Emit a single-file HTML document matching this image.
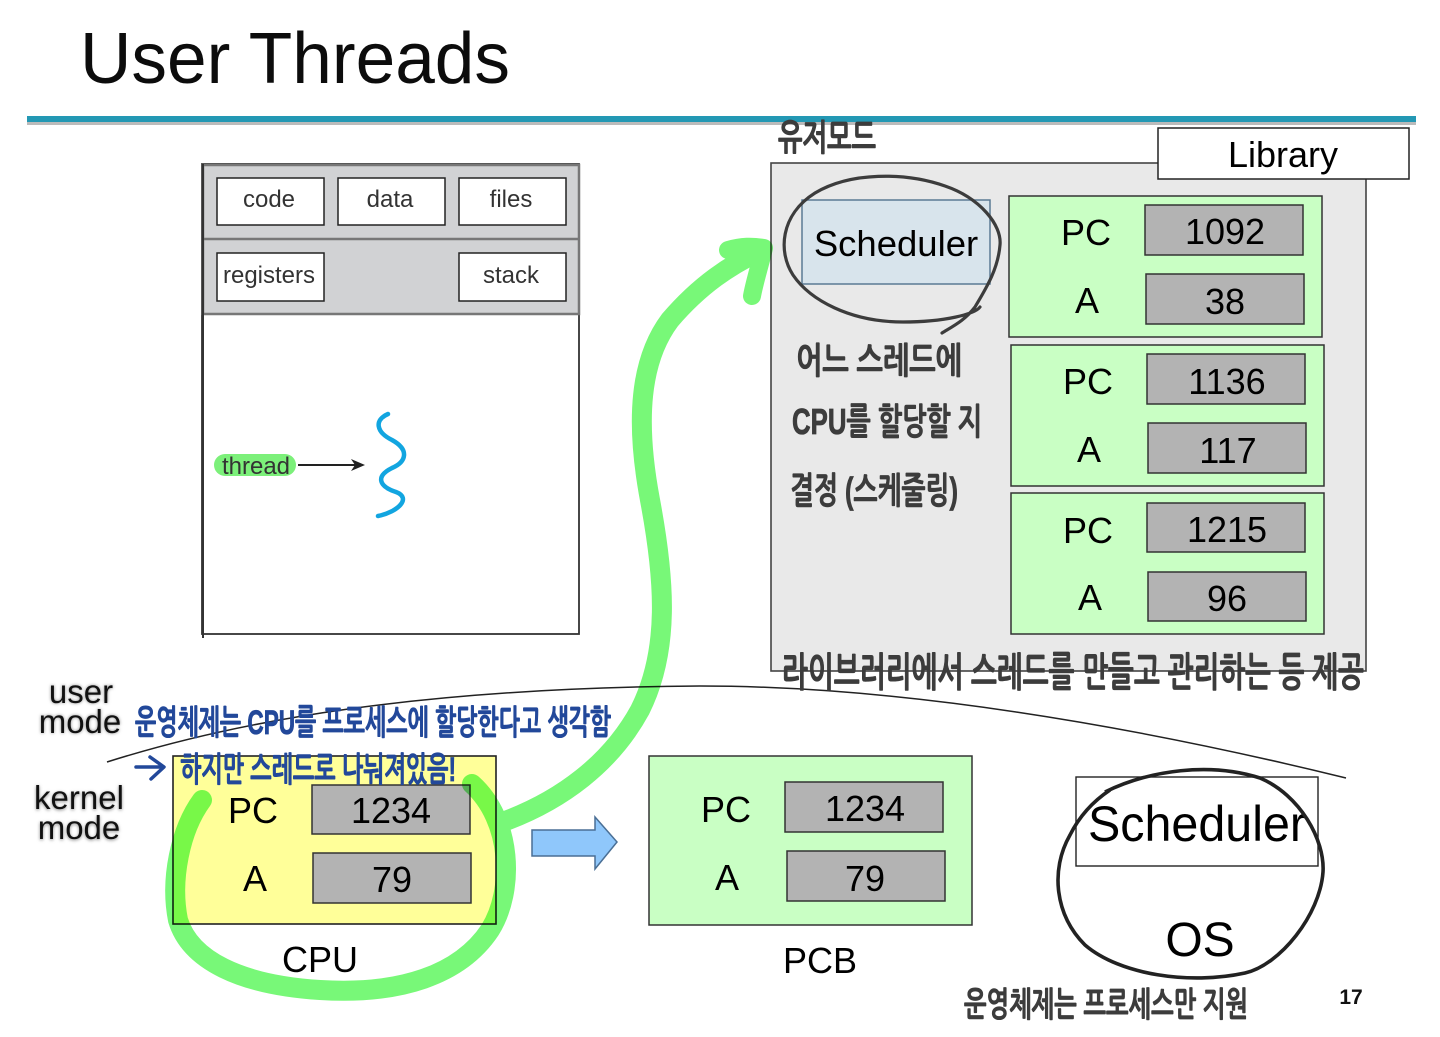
<!DOCTYPE html>
<html><head><meta charset="utf-8"><style>
html,body{margin:0;padding:0;background:#fff}
svg{display:block}
text{font-family:"Liberation Sans","Noto Sans CJK KR",sans-serif}
.h{font-family:"Liberation Sans","NanumGothic","Noto Sans CJK KR",sans-serif;font-weight:700;fill:#3c3c3c;stroke:#3c3c3c;stroke-width:.8}
.b{fill:#22489a;stroke:#22489a}
.k{fill:#000}
.box{fill:#fff;stroke:#222;stroke-width:1.5}
.g{fill:#b3b3b3;stroke:#333;stroke-width:1.5}
.pg{fill:#c9ffc4;stroke:#333;stroke-width:1.5}
</style></head><body>
<svg width="1440" height="1037" viewBox="0 0 1440 1037" xmlns="http://www.w3.org/2000/svg">
<defs><filter id="s" x="-20%" y="-20%" width="140%" height="140%"><feGaussianBlur stdDeviation="1.5"/></filter></defs>
<rect width="1440" height="1037" fill="#fff"/>
<text x="80" y="83" font-size="72" textLength="430" lengthAdjust="spacingAndGlyphs" fill="#0c0c0c">User Threads</text>
<rect x="27" y="121" width="1389" height="4" fill="#bbb"/>
<rect x="27" y="116" width="1389" height="6" fill="#2398b4"/>

<!-- process box -->
<rect x="202" y="164" width="377" height="470" fill="#fff" stroke="#333" stroke-width="1.8"/>
<rect x="203" y="165" width="376" height="149" fill="#d1d2d4" stroke="#777" stroke-width="2.5"/>
<line x1="203" y1="239" x2="579" y2="239" stroke="#777" stroke-width="2.5"/>
<line x1="203" y1="164" x2="203" y2="638" stroke="#333" stroke-width="2"/>
<rect class="box" x="217" y="178" width="107" height="47"/>
<rect class="box" x="338" y="178" width="107" height="47"/>
<rect class="box" x="459" y="178" width="107" height="47"/>
<rect class="box" x="217" y="253" width="107" height="48"/>
<rect class="box" x="459" y="253" width="107" height="48"/>
<g font-size="24" fill="#333" text-anchor="middle">
<text x="269" y="207">code</text><text x="390" y="207">data</text><text x="511" y="207">files</text>
<text x="269" y="283">registers</text><text x="511" y="283">stack</text>
</g>
<rect x="214" y="454" width="82" height="22" rx="11" fill="#7cf07a"/>
<text x="256" y="474" font-size="24" fill="#333" text-anchor="middle">thread</text>
<line x1="298" y1="465" x2="356" y2="465" stroke="#222" stroke-width="2"/>
<path d="M351 459L365 465L351 471L355 465Z" fill="#222"/>
<path d="M388 414C374 420 376 432 392 440C410 450 406 462 392 468C376 476 378 486 396 492C412 498 398 512 378 516" fill="none" stroke="#12a5e0" stroke-width="4.5" stroke-linecap="round"/>

<!-- Library panel -->
<rect x="771" y="163" width="595" height="508" fill="#e9e9e9" stroke="#444" stroke-width="1.6"/>
<rect x="1158" y="128" width="251" height="51" fill="#fff" stroke="#222" stroke-width="1.5"/>
<text x="1283" y="167" font-size="36" text-anchor="middle" class="k">Library</text>
<rect x="802" y="200" width="188" height="84" fill="#d8e4ec" stroke="#5b7a94" stroke-width="1.5"/>
<text x="896" y="256" font-size="36.5" text-anchor="middle" class="k">Scheduler</text>
<path d="M980 307C975 314 945 322 903 322C850 322 810 300 793 275C778 252 780 215 815 193C850 172 905 172 945 186C980 198 1002 225 1000 245C998 270 985 290 975 307C965 320 955 325 942 333" fill="none" stroke="#3c3c3c" stroke-width="3.2" stroke-linecap="round"/>

<g>
<rect class="pg" x="1009" y="196" width="313" height="141"/>
<rect class="pg" x="1011" y="345" width="313" height="141"/>
<rect class="pg" x="1011" y="493" width="313" height="141"/>
<rect class="g" x="1145" y="205" width="158" height="50"/><rect class="g" x="1146" y="274" width="158" height="50"/>
<rect class="g" x="1147" y="354" width="158" height="50"/><rect class="g" x="1148" y="423" width="158" height="50"/>
<rect class="g" x="1147" y="503" width="158" height="49"/><rect class="g" x="1148" y="572" width="158" height="49"/>
</g>
<g font-size="36" text-anchor="middle" class="k">
<text x="1086" y="245">PC</text><text x="1087" y="313">A</text><text x="1225" y="244">1092</text><text x="1225" y="314">38</text>
<text x="1088" y="394">PC</text><text x="1089" y="462">A</text><text x="1227" y="394">1136</text><text x="1228" y="463">117</text>
<text x="1088" y="543">PC</text><text x="1090" y="610">A</text><text x="1227" y="542">1215</text><text x="1227" y="611">96</text>
</g>

<!-- curve -->
<path d="M107 762C240 720 420 688 700 686C900 686 1130 725 1346 778" fill="none" stroke="#222" stroke-width="1.5"/>

<!-- CPU -->
<rect x="173" y="756" width="323" height="168" fill="#ffff99" stroke="#222" stroke-width="1.6"/>
<rect class="g" x="312" y="785" width="158" height="49"/><rect class="g" x="313" y="853" width="158" height="50"/>
<g font-size="36" text-anchor="middle" class="k">
<text x="253" y="823">PC</text><text x="255" y="891">A</text><text x="391" y="823">1234</text><text x="392" y="892">79</text>
</g>
<text x="320" y="972" font-size="36" text-anchor="middle" class="k">CPU</text>

<!-- arrow -->
<path d="M532 830H595V817L617 842L595 869V856H532Z" fill="#8fc7fb" stroke="#4a6f95" stroke-width="1.5"/>

<!-- PCB -->
<rect class="pg" x="649" y="756" width="323" height="169"/>
<rect class="g" x="785" y="782" width="158" height="50"/><rect class="g" x="787" y="851" width="158" height="50"/>
<g font-size="36" text-anchor="middle" class="k">
<text x="726" y="822">PC</text><text x="727" y="890">A</text><text x="865" y="821">1234</text><text x="865" y="891">79</text>
</g>
<text x="820" y="973" font-size="36" text-anchor="middle" class="k">PCB</text>

<!-- OS scheduler -->
<rect x="1076" y="777" width="242" height="89" fill="#fff" stroke="#222" stroke-width="1.4"/>
<text x="1197" y="841" font-size="50" text-anchor="middle" textLength="218" lengthAdjust="spacingAndGlyphs" class="k">Scheduler</text>
<text x="1200" y="956" font-size="48" text-anchor="middle" class="k">OS</text>
<path d="M1105 792C1150 770 1210 762 1260 778C1300 795 1325 840 1323 872C1320 915 1280 965 1245 973C1190 985 1120 975 1085 945C1055 915 1050 870 1070 835C1080 815 1095 800 1110 790" fill="none" stroke="#222" stroke-width="3.6"/>

<!-- green highlight -->
<g fill="none" stroke="#78f878" stroke-linecap="round" stroke-linejoin="round" style="mix-blend-mode:multiply">
<path stroke-width="20" d="M202 800C180 830 170 880 178 920C190 960 240 985 320 990C400 995 460 975 490 930C515 890 512 820 472 784"/>
<path stroke-width="20" d="M508 820C560 800 610 765 640 710C670 650 665 580 650 500C635 420 640 360 670 320C700 285 730 265 762 250"/>
<path stroke-width="18" d="M728 250C742 246 752 246 764 248C760 265 755 280 752 296"/>
</g>

<!-- labels -->
<g font-size="33" text-anchor="middle" fill="#111">
<text x="81" y="703" fill="#888" filter="url(#s)">user</text><text x="80" y="733" fill="#888" filter="url(#s)">mode</text>
<text x="79" y="810" fill="#888" filter="url(#s)">kernel</text><text x="79" y="840" fill="#888" filter="url(#s)">mode</text>
<text x="81" y="703">user</text><text x="80" y="733">mode</text>
<text x="79" y="809">kernel</text><text x="79" y="839">mode</text>
</g>

<!-- handwriting -->
<text class="h" x="778" y="150" font-size="36" textLength="98" lengthAdjust="spacingAndGlyphs">유저모드</text>
<text class="h" x="796" y="373" font-size="36" textLength="166" lengthAdjust="spacingAndGlyphs">어느 스레드에</text>
<text class="h" x="792" y="434" font-size="36" textLength="190" lengthAdjust="spacingAndGlyphs">CPU를 할당할 지</text>
<text class="h" x="790" y="503" font-size="36" textLength="168" lengthAdjust="spacingAndGlyphs">결정 (스케줄링)</text>
<text class="h" x="782" y="686" font-size="40" textLength="582" lengthAdjust="spacingAndGlyphs">라이브러리에서 스레드를 만들고 관리하는 등 제공</text>
<text class="h b" x="135" y="734" font-size="34" textLength="476" lengthAdjust="spacingAndGlyphs">운영체제는 CPU를 프로세스에 할당한다고 생각함</text>
<path d="M136 767H163M150 757L164 767L151 779" fill="none" stroke="#22489a" stroke-width="3.5" stroke-linecap="round" stroke-linejoin="round"/>
<text class="h b" x="180" y="781" font-size="34" textLength="276" lengthAdjust="spacingAndGlyphs">하지만 스레드로 나눠져있음!</text>
<text class="h" x="964" y="1016" font-size="34" textLength="284" lengthAdjust="spacingAndGlyphs">운영체제는 프로세스만 지원</text>
<text x="1351" y="1004" font-size="21" font-weight="700" text-anchor="middle" fill="#111">17</text>
</svg>
</body></html>
